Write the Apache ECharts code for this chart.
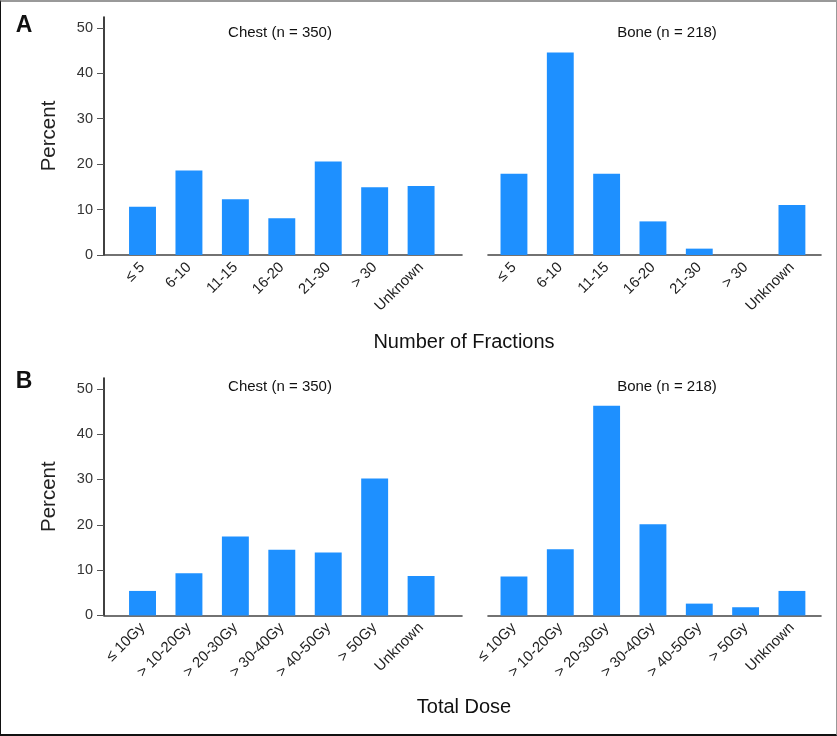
<!DOCTYPE html>
<html>
<head>
<meta charset="utf-8">
<script src="https://cdn.jsdelivr.net/npm/echarts@6/dist/echarts.min.js"></script>
<style>
  html, body { margin: 0; padding: 0; background: #fff; }
  #wrap { position: relative; width: 837px; height: 736px; }
  #chart { position: absolute; left: 0; top: 0; width: 837px; height: 736px; }
  #frame {
    position: absolute; left: 0; top: 0; width: 837px; height: 736px;
    box-sizing: border-box; pointer-events: none;
    border-left: 1px solid #111; border-bottom: 2px solid #111;
    border-right: 1px solid #999; border-top: 2px solid #999;
  }
</style>
</head>
<body>
<div id="wrap">
  <div id="chart"></div>
  <div id="frame"></div>
</div>
<script>
// categories
const fractionCats = ['≤ 5', '6-10', '11-15', '16-20', '21-30', '> 30', 'Unknown'];
const doseCats = ['≤ 10Gy', '> 10-20Gy', '> 20-30Gy', '> 30-40Gy', '> 40-50Gy', '> 50Gy', 'Unknown'];

// percent values
const chestFractions = [10.6, 18.6, 12.3, 8.1, 20.6, 14.9, 15.2];
const boneFractions = [17.9, 44.6, 17.9, 7.4, 1.4, 0, 11.0];
const chestDose = [5.4, 9.3, 17.4, 14.5, 13.9, 30.2, 8.7];
const boneDose = [8.6, 14.6, 46.3, 20.1, 2.6, 1.8, 5.4];

const yTicks = [0, 10, 20, 30, 40, 50];
const Y_MAX = 52.4;

const BAR_COLOR = '#1e90ff';
const FONT = '"Liberation Sans", Arial, sans-serif';

const chart = echarts.init(document.getElementById('chart'), null, { renderer: 'canvas' });

// each panel: a frame grid (axis lines) and a bar grid (bars + category labels)
const panels = [
  { frame: { left: 104, width: 358 }, bars: { left: 119.3, width: 325 }, top: 17, height: 238, cats: fractionCats, data: chestFractions, yAxis: true },
  { frame: { left: 488, width: 333 }, bars: { left: 490.8, width: 324.3 }, top: 17, height: 238, cats: fractionCats, data: boneFractions, yAxis: false },
  { frame: { left: 104, width: 358 }, bars: { left: 119.3, width: 325 }, top: 378, height: 237.4, cats: doseCats, data: chestDose, yAxis: true },
  { frame: { left: 488, width: 333 }, bars: { left: 490.8, width: 324.3 }, top: 378, height: 237.4, cats: doseCats, data: boneDose, yAxis: false },
];

const grid = [];
const xAxis = [];
const yAxis = [];
const series = [];

panels.forEach((p) => {
  // frame grid
  const fi = grid.length;
  grid.push({ left: p.frame.left, width: p.frame.width, top: p.top, height: p.height });
  xAxis.push({
    type: 'value', gridIndex: fi, min: 0, max: 1,
    axisLine: { show: true, lineStyle: { color: '#444', width: 1.6 } },
    axisTick: { show: false }, axisLabel: { show: false }, splitLine: { show: false },
  });
  yAxis.push({
    type: 'value', gridIndex: fi, min: 0, max: Y_MAX,
    show: p.yAxis,
    name: 'Percent',
    nameLocation: 'middle',
    nameRotate: 90,
    nameGap: 44,
    nameTextStyle: { fontFamily: FONT, fontSize: 20.5, color: '#222' },
    axisLine: { show: true, lineStyle: { color: '#111', width: 1.6 } },
    axisTick: { show: true, length: 7, customValues: yTicks, lineStyle: { color: '#555', width: 1 } },
    axisLabel: { customValues: yTicks, fontFamily: FONT, fontSize: 14.5, color: '#333', margin: 11 },
    splitLine: { show: false },
  });

  // bar grid
  const bi = grid.length;
  grid.push({ left: p.bars.left, width: p.bars.width, top: p.top, height: p.height });
  xAxis.push({
    type: 'category', gridIndex: bi, data: p.cats,
    axisLine: { show: false }, axisTick: { show: false },
    axisLabel: { interval: 0, rotate: 45, margin: 10, fontFamily: FONT, fontSize: 14.8, color: '#222' },
  });
  yAxis.push({ type: 'value', gridIndex: bi, min: 0, max: Y_MAX, show: false, splitLine: { show: false } });
  series.push({
    type: 'bar', xAxisIndex: bi, yAxisIndex: bi, data: p.data,
    barWidth: '58%', itemStyle: { color: BAR_COLOR }, silent: true,
  });
});

const textStyle = (text, x, y, size, weight) => ({
  type: 'text', x, y,
  style: { text, fontFamily: FONT, fontSize: size, fontWeight: weight || 'normal', fill: '#111', align: 'center', verticalAlign: 'middle' },
});

chart.setOption({
  animation: false,
  backgroundColor: '#fff',
  grid,
  xAxis,
  yAxis,
  series,
  graphic: [
    textStyle('A', 24, 26, 23, 'bold'),
    textStyle('B', 24, 382, 23, 'bold'),
    textStyle('Chest (n = 350)', 280, 33, 15),
    textStyle('Bone (n = 218)', 667, 33, 15),
    textStyle('Chest (n = 350)', 280, 387, 15),
    textStyle('Bone (n = 218)', 667, 387, 15),
    textStyle('Number of Fractions', 464, 342, 20),
    textStyle('Total Dose', 464, 707, 20),
  ],
});
</script>
</body>
</html>
